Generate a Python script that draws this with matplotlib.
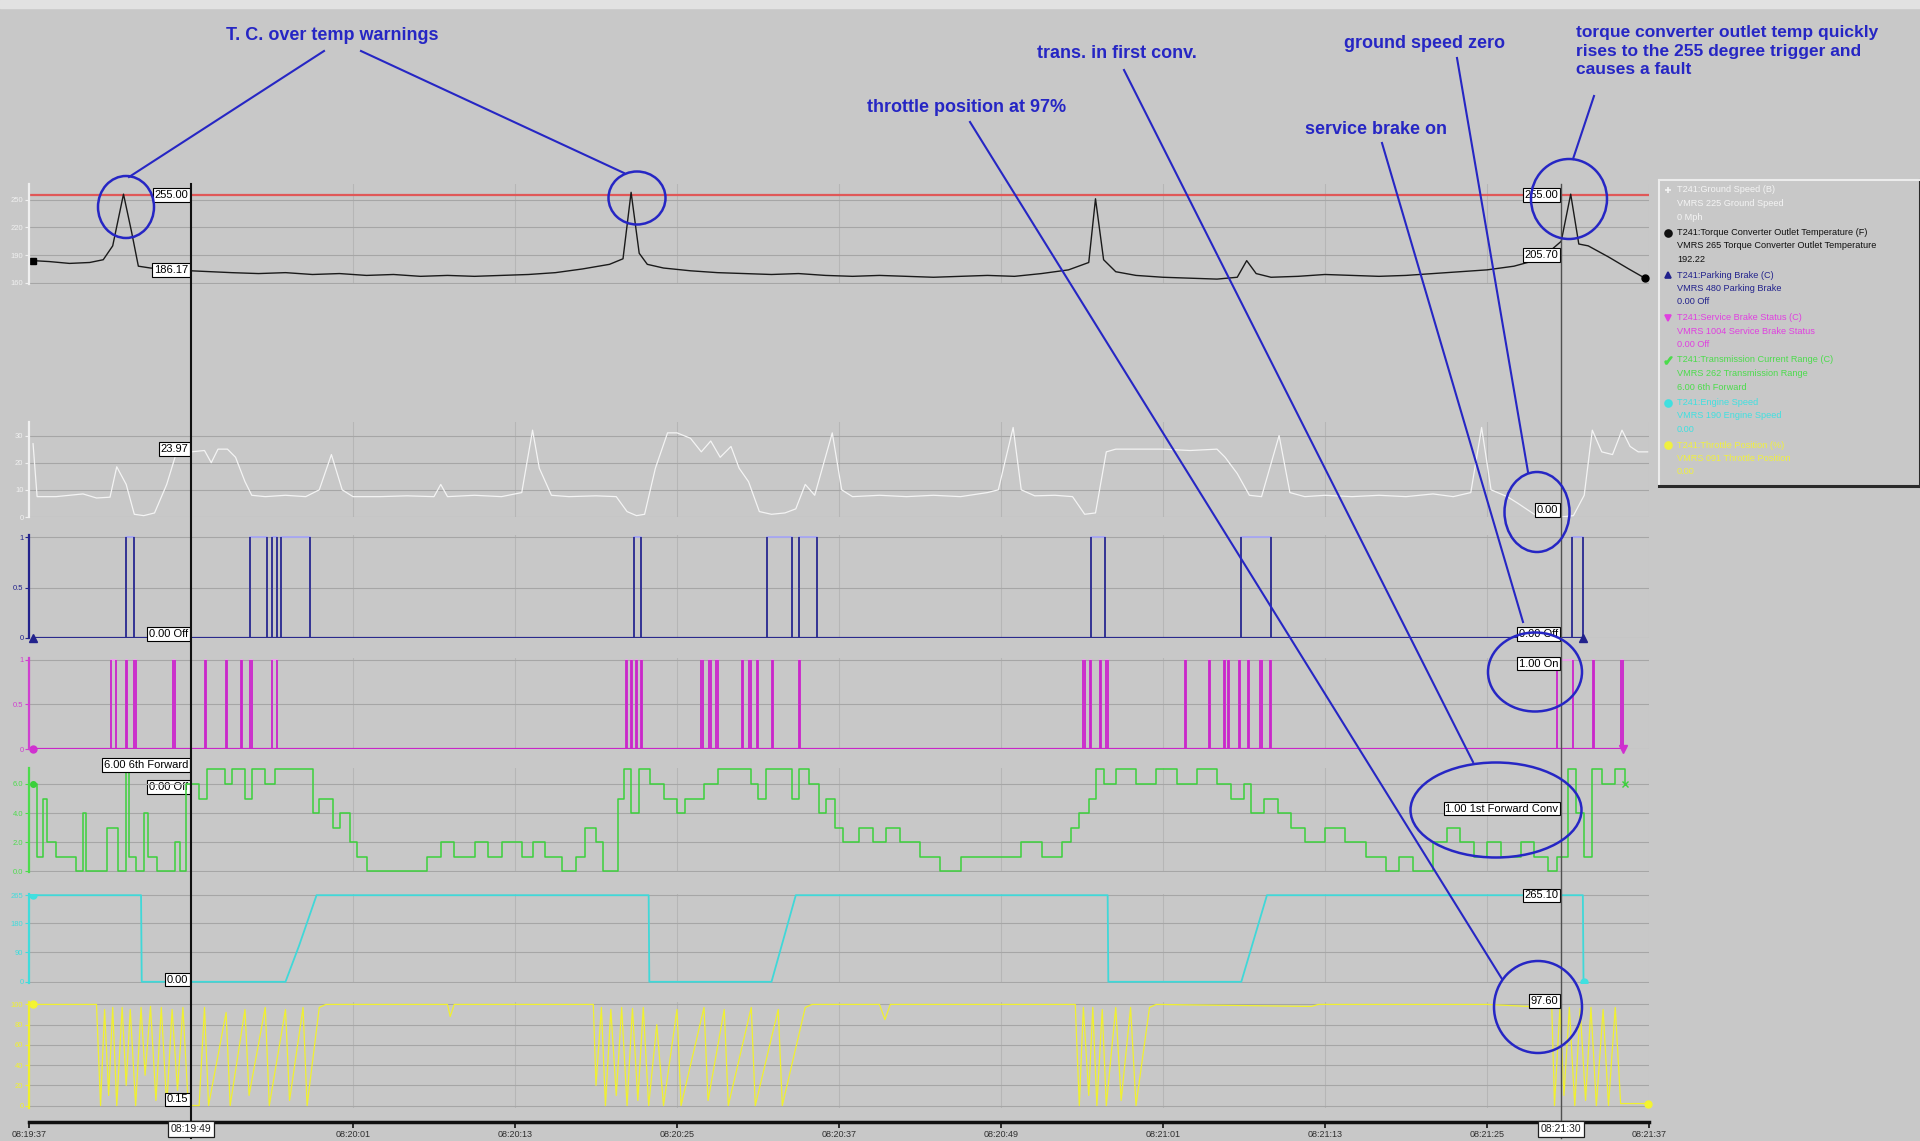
import matplotlib
matplotlib.use("Agg")
import matplotlib.pyplot as plt
from matplotlib.patches import Ellipse, Rectangle
from matplotlib.lines import Line2D
from matplotlib.transforms import blended_transform_factory

# time axis: seconds after 08:19:37
tick_t = [0, 24, 36, 48, 60, 72, 84, 96, 108, 120]
tick_lbl = ["08:19:37", "08:20:01", "08:20:13", "08:20:25", "08:20:37",
            "08:20:49", "08:21:01", "08:21:13", "08:21:25", "08:21:37"]
cursor_t = [12.0, 113.5]
cursor_lbl = ["08:19:49", "08:21:30"]

# torque converter outlet temperature (F)
torque_t = [0.3, 1.5, 3.0, 4.5, 5.5, 6.2, 7.0, 7.6, 8.1, 9.0, 10.0, 11.0, 12.0, 13.5, 15.0, 17.0,
            19.0, 21.0, 23.0, 25.0, 27.0, 29.0, 31.0, 33.0, 35.0, 37.0, 39.0, 41.0, 43.0, 44.0,
            44.6, 45.2, 45.8, 47.0, 49.0, 51.0, 53.0, 55.0, 57.0, 59.0, 61.0, 63.0, 65.0, 67.0,
            69.0, 71.0, 73.0, 75.0, 77.0, 78.5, 79.0, 79.6, 80.5, 82.0, 84.0, 86.0, 88.0, 89.5,
            90.2, 90.9, 92.0, 94.0, 96.0, 98.0, 100.0, 102.0, 104.0, 106.0, 108.0, 110.0, 112.0,
            113.5, 114.2, 114.8, 115.5, 117.0, 118.5, 119.7]
torque_v = [184, 183, 181, 182, 185, 200, 256, 215, 178, 176, 175, 174, 173, 172, 171, 170,
            171, 169, 170, 168, 169, 167, 168, 167, 168, 169, 171, 175, 180, 186,
            258, 192, 180, 176, 173, 171, 170, 169, 170, 168, 167, 168, 167, 166,
            167, 168, 167, 170, 174, 182, 251, 185, 172, 168, 166, 165, 164, 166,
            184, 170, 166, 167, 169, 168, 167, 168, 170, 172, 174, 178, 186,
            205, 256, 202, 200, 188, 175, 165]
temp_trigger = 255

# ground speed (mph)
speed_t = [0.3, 0.6, 1.0, 2.0, 3.0, 4.0, 5.0, 6.0, 6.5, 7.2,
           7.8, 8.5, 9.3, 10.2, 11.0, 11.5, 12.0, 13.0, 13.5, 14.0,
           14.7, 15.3, 16.0, 16.5, 17.5, 19.0, 20.5, 21.5, 22.4, 23.2,
           24.0, 26.0, 28.0, 30.0, 30.5, 31.0, 33.0, 35.0, 36.5, 37.3,
           37.8, 38.7, 40.0, 42.0, 43.5, 44.3, 45.0, 45.6, 46.4, 47.3,
           48.0, 49.0, 49.8, 50.5, 51.2, 52.0, 52.6, 53.3, 54.1, 55.0,
           56.0, 56.8, 57.5, 58.2, 59.5, 60.2, 61.0, 63.0, 65.0, 67.0,
           69.0, 71.0, 71.8, 72.9, 73.5, 74.5, 76.0, 77.3, 78.2, 79.0,
           79.8, 80.5, 82.0, 84.0, 86.0, 88.0, 88.6, 89.5, 90.4, 91.3,
           92.6, 93.4, 94.5, 96.0, 98.0, 100.0, 102.0, 104.0, 105.5, 106.8,
           107.6, 108.3, 109.5, 110.3, 111.5, 112.5, 113.5, 114.4, 115.2, 115.8,
           116.5, 117.3, 118.0, 118.6, 119.2, 119.9]
speed_v = [27, 7.5, 7.5, 7.5, 8, 8.5, 7, 7.3, 18.5, 12,
           1, 0.5, 1.5, 12, 25, 26, 24, 24.5, 20, 25,
           25, 22, 13, 8, 7.5, 8, 7.5, 10, 23, 10,
           7.5, 7.5, 7.8, 7.5, 12, 7.5, 8, 7.5, 9, 32,
           18, 8, 7.5, 7.8, 7.5, 2, 0.5, 1, 18, 31,
           31, 29, 24, 28, 22, 26, 18, 13, 2, 1,
           1.5, 3, 12, 8, 31, 10, 7.5, 8, 7.5, 8,
           7.5, 9, 10, 33, 10, 7.8, 8, 7.5, 1, 1.5,
           24, 25, 25, 25, 24.5, 25, 22, 16, 8, 7.5,
           30, 9, 7.5, 8, 7.5, 8, 7.5, 8.5, 7.5, 9,
           33, 10, 7.5, 5, 1, 0, 0, 0.5, 8, 32,
           24, 23, 32, 26, 24, 24]

# parking brake on/off
park_on = [7.2, 16.4, 18.0, 18.7, 44.8, 54.7, 57.0, 78.7, 89.8, 114.3]
park_off = [7.8, 17.6, 18.4, 20.8, 45.3, 56.5, 58.4, 79.7, 92.0, 115.1]
park_end = 115.1

# service brake status on/off
svc_on = [6.05, 7.15, 7.75, 10.7, 13.0, 14.6, 15.7, 16.4, 18.0, 44.2, 44.6, 44.95, 45.3,
          49.8, 50.4, 50.9, 52.8, 53.3, 53.9, 55.0, 57.0, 78.1, 78.6, 79.3, 79.8,
          85.6, 87.4, 88.5, 88.8, 89.6, 90.3, 91.2, 91.9, 113.2, 115.85, 117.95]
svc_off = [6.45, 7.25, 7.95, 10.8, 13.1, 14.7, 15.8, 16.5, 18.4, 44.3, 44.7, 45.05, 45.4,
           49.9, 50.55, 51.0, 52.9, 53.45, 54.0, 55.1, 57.1, 78.2, 78.7, 79.4, 79.9,
           85.7, 87.5, 88.6, 88.9, 89.7, 90.4, 91.3, 92.0, 114.4, 115.95, 118.05]
svc_end = 118.1

# transmission current range (gear)
gear_t = [0.3, 0.6, 1.0, 1.3, 2.0, 3.5, 4.0, 4.2, 5.8, 6.3,
          6.6, 7.2, 7.4, 7.9, 8.5, 8.8, 9.5, 10.8, 11.2, 11.6,
          12.6, 13.2, 14.5, 15.0, 16.0, 16.5, 17.5, 18.2, 21.0, 21.5,
          22.5, 23.0, 23.8, 24.3, 25.0, 29.5, 30.5, 31.5, 33.0, 34.0,
          35.0, 36.5, 37.3, 38.2, 39.5, 40.5, 41.2, 42.0, 42.5, 43.6,
          44.1, 44.6, 45.2, 46.0, 47.0, 48.0, 48.6, 50.0, 51.0, 53.5,
          54.0, 54.6, 56.5, 57.0, 57.8, 58.5, 59.0, 59.7, 60.3, 61.5,
          62.5, 63.5, 64.5, 66.0, 67.5, 69.0, 73.5, 75.0, 76.5, 77.2,
          77.8, 78.5, 79.0, 79.6, 80.5, 82.0, 83.5, 85.0, 86.5, 88.0,
          89.0, 90.0, 90.5, 91.5, 92.5, 93.5, 94.5, 96.0, 97.5, 99.0,
          100.5, 101.5, 102.5, 104.0, 105.0, 106.0, 107.0, 108.0, 109.0, 110.5,
          111.5, 112.5, 113.2, 114.0, 114.6, 115.2, 115.8, 116.5, 117.5, 118.2]
gear_v = [6, 1, 5, 2, 1, 0, 4, 0, 3, 3,
          0, 7, 1, 0, 4, 1, 0, 2, 0, 6,
          5, 7, 6, 7, 5, 7, 6, 7, 4, 5,
          3, 4, 2, 1, 0, 1, 2, 1, 2, 1,
          2, 1, 2, 1, 0, 1, 3, 2, 0, 5,
          7, 4, 7, 6, 5, 4, 5, 6, 7, 6,
          5, 7, 5, 7, 6, 4, 5, 3, 2, 3,
          2, 3, 2, 1, 0, 1, 2, 1, 2, 3,
          4, 5, 7, 6, 7, 6, 7, 6, 7, 6,
          5, 6, 4, 5, 4, 3, 2, 3, 2, 1,
          0, 1, 0, 2, 3, 2, 1, 2, 1, 2,
          1, 0, 1, 7, 4, 1, 7, 6, 7, 6]

# engine speed channel (cyan)
eng_t = [0.3, 8.3, 8.35, 19.0, 20.0, 21.3, 45.9, 45.95, 55.0, 56.8,
         79.9, 79.95, 89.8, 91.7, 115.1, 115.15]
eng_v = [265.1, 265.1, 0, 0, 110, 265.1, 265.1, 0, 0, 265.1,
         265.1, 0, 0, 265.1, 265.1, 0]

# throttle position (%)
thr_t = [0.3, 5.0, 5.3, 5.6, 5.9, 6.2, 6.5, 6.9, 7.2, 7.5,
         7.9, 8.3, 8.6, 9.0, 9.4, 9.8, 10.2, 10.6, 11.0, 11.4,
         11.8, 12.6, 13.0, 13.3, 14.6, 14.9, 16.0, 16.3, 17.5, 17.8,
         19.0, 19.3, 20.3, 20.6, 21.5, 22.0, 31.0, 31.2, 31.5, 41.8,
         42.0, 42.4, 42.7, 43.1, 43.5, 43.9, 44.3, 44.7, 45.1, 45.5,
         45.9, 46.5, 47.0, 48.0, 48.3, 50.0, 50.3, 51.5, 51.8, 53.5,
         53.8, 55.5, 55.8, 57.5, 58.0, 63.0, 63.4, 63.8, 77.5, 77.8,
         78.1, 78.5, 78.8, 79.1, 79.5, 79.8, 80.5, 80.9, 81.6, 82.0,
         83.0, 83.5, 95.0, 95.5, 108.0, 111.7, 112.8, 113.0, 113.4, 113.7,
         114.1, 114.5, 114.9, 115.3, 115.7, 116.1, 116.6, 117.0, 117.5, 117.9,
         119.9]
thr_v = [100, 100, 0, 95, 10, 97, 0, 97, 20, 95,
         0, 97, 30, 98, 5, 97, 0, 95, 15, 97,
         0.15, 0, 97, 0, 92, 0, 95, 10, 97, 0,
         95, 5, 97, 0, 97, 100, 100, 88, 100, 100,
         20, 97, 0, 95, 10, 97, 0, 96, 5, 97,
         0, 80, 0, 95, 0, 97, 5, 95, 0, 97,
         0, 95, 0, 97, 100, 100, 85, 100, 100, 0,
         97, 10, 97, 0, 95, 0, 97, 5, 97, 0,
         97, 100, 98, 100, 100, 97.6, 97, 0, 97, 10,
         97, 0, 96, 5, 97, 0, 95, 0, 97, 2,
         2]

# legend text (title, vmrs line, current value)
leg_colors = ["#f4f4f4", "#101010", "#22228c", "#e040e0", "#4cdc4c", "#40e0e0", "#f0f040"]
leg_text = [
    ["T241:Ground Speed (B)", "VMRS 225 Ground Speed", "0 Mph"],
    ["T241:Torque Converter Outlet Temperature (F)", "VMRS 265 Torque Converter Outlet Temperature", "192.22"],
    ["T241:Parking Brake (C)", "VMRS 480 Parking Brake", "0.00 Off"],
    ["T241:Service Brake Status (C)", "VMRS 1004 Service Brake Status", "0.00 Off"],
    ["T241:Transmission Current Range (C)", "VMRS 262 Transmission Range", "6.00 6th Forward"],
    ["T241:Engine Speed", "VMRS 190 Engine Speed", "0.00"],
    ["T241:Throttle Position (%)", "VMRS 091 Throttle Position", "0.00"],
]
leg_marks = ["+", "o", "^", "v", "$\u2713$", "o", "o"]

W, H = 1920, 1141
BG = "#c8c8c8"
X0, X1 = 29, 1649

plt.rcParams["font.family"] = ["Liberation Sans", "DejaVu Sans"]

fig = plt.figure(figsize=(W / 100, H / 100), dpi=100, facecolor=BG)
fig.add_artist(Rectangle((0, 1 - 8 / H), 1, 8 / H, transform=fig.transFigure,
                         color="#e2e2e2", zorder=0))


def panel(top, bottom, ylim, yticks, color, labels=None):
    ax = fig.add_axes([X0 / W, 1 - bottom / H, (X1 - X0) / W, (bottom - top) / H])
    ax.set_facecolor("none")
    ax.set_xlim(0, 120)
    ax.set_ylim(*ylim)
    ax.set_yticks(yticks)
    if labels:
        ax.set_yticklabels(labels)
    ax.set_xticks(tick_t)
    ax.tick_params(axis="x", length=0, labelbottom=False)
    ax.tick_params(axis="y", colors=color, labelsize=5.5, length=3, width=0.8, pad=1)
    for s in ("top", "right", "bottom"):
        ax.spines[s].set_visible(False)
    ax.spines["left"].set_color(color)
    ax.spines["left"].set_linewidth(1.6)
    ax.grid(axis="y", color="#a6a6a6", lw=0.8)
    ax.grid(axis="x", color="#b6b6b6", lw=0.8)
    ax.set_axisbelow(True)
    return ax


def pulses(ax, on, off, end, dark, light):
    t, v = [0.3], [0]
    for a, b in zip(on, off):
        t += [a, b]
        v += [1, 0]
    t.append(end)
    v.append(0)
    ax.step(t, v, where="post", color=light, lw=1.3)
    ax.hlines(0, 0.3, end, color=dark, lw=1.6)
    ax.vlines(on + off, 0, 1, color=dark, lw=1.3)


def vbox(ax, t, y, s, dy=0):
    ax.annotate(s, xy=(t, y), xytext=(-3, dy), textcoords="offset pixels",
                ha="right", va="center", fontsize=8, color="black", zorder=8,
                annotation_clip=False,
                bbox=dict(boxstyle="square,pad=0.15", fc="white", ec="black", lw=0.8))


T1, T2 = cursor_t

ax1 = panel(184, 284, (158.7, 267), [160, 190, 220, 250], "#f0f0f0")
ax1.axhline(temp_trigger, color="#e05858", lw=1.6)
ax1.plot(torque_t, torque_v, color="#1a1a1a", lw=1.0)
ax1.plot(torque_t[0], torque_v[0], "s", color="black", ms=4)
ax1.plot(torque_t[-1], torque_v[-1], "o", color="black", ms=5)
vbox(ax1, T1, temp_trigger, "255.00")
vbox(ax1, T1, 174, "186.17")
vbox(ax1, T2, temp_trigger, "255.00")
vbox(ax1, T2, 190, "205.70")

ax2 = panel(422, 517, (0, 35), [0, 10, 20, 30], "#f0f0f0")
ax2.plot(speed_t, speed_v, color="#f4f4f4", lw=0.9)
vbox(ax2, T1, 24, "23.97", dy=3)
vbox(ax2, T2, 0, "0.00", dy=7)

ax3 = panel(535, 638, (0, 1.02), [0, 0.5, 1], "#22228c", ["0", "0.5", "1"])
pulses(ax3, park_on, park_off, park_end, "#2a2a8c", "#a8a8f4")
ax3.plot([0.3, park_end], [0, 0], "^", color="#22228c", ms=6, clip_on=False)
vbox(ax3, T1, 0, "0.00 Off", dy=4)
vbox(ax3, T2, 0, "0.00 Off", dy=4)

ax4 = panel(658, 749, (0, 1.02), [0, 0.5, 1], "#d040d0", ["0", "0.5", "1"])
pulses(ax4, svc_on, svc_off, svc_end, "#c828c8", "#f0a0f0")
ax4.plot(0.3, 0, "o", color="#d030d0", ms=5, clip_on=False)
ax4.plot(svc_end, 0, "v", color="#d030d0", ms=6, clip_on=False)
vbox(ax4, T1, 0, "0.00 Off", dy=-38)
vbox(ax4, T2, 1, "1.00 On", dy=-4)

ax5 = panel(768, 872, (-0.05, 7.1), [0, 2, 4, 6], "#4cdc4c", ["0.0", "2.0", "4.0", "6.0"])
ax5.step(gear_t, gear_v, where="post", color="#3cd03c", lw=1.1)
ax5.plot(gear_t[0], gear_v[0], "o", color="#3cd03c", ms=4)
ax5.plot(gear_t[-1], gear_v[-1], "x", color="#3cd03c", ms=5)
vbox(ax5, T1, 6, "6.00 6th Forward", dy=19)
vbox(ax5, T2, 1, "1.00 1st Forward Conv", dy=48)

ax6 = panel(894, 983, (-3.7, 268.8), [0, 90, 180, 265], "#40dcdc")
ax6.plot(eng_t, eng_v, color="#40d8d8", lw=1.3)
ax6.plot([eng_t[0], eng_t[-1]], [eng_v[0], eng_v[-1]], "o", color="#40e0e0", ms=5)
vbox(ax6, T1, 0, "0.00", dy=2)
vbox(ax6, T2, 265.1, "265.10")

ax7 = panel(1002, 1108, (-2.4, 102.4), [0, 20, 40, 60, 80, 100], "#f0f030")
ax7.plot(thr_t, thr_v, color="#f0f030", lw=0.9)
ax7.plot([thr_t[0], thr_t[-1]], [thr_v[0], thr_v[-1]], "o", color="#f4f430", ms=5,
         clip_on=False)
vbox(ax7, T1, 0.15, "0.15", dy=6)
vbox(ax7, T2, 97.6, "97.60", dy=6)

# time axis
ax7.spines["bottom"].set_visible(True)
ax7.spines["bottom"].set_position(("outward", 10))
ax7.spines["bottom"].set_color("#101010")
ax7.spines["bottom"].set_linewidth(2.5)
ax7.set_xticklabels(tick_lbl)
ax7.tick_params(axis="x", length=4, width=1.2, color="#101010", labelcolor="#303030",
                labelsize=6.5, labelbottom=True, pad=2)

# cursors
blend = blended_transform_factory(ax7.transData, fig.transFigure)
fig.add_artist(Line2D([T1, T1], [1 - 184 / H, 1 - 1138 / H], transform=blend,
                      color="#101010", lw=1.5, zorder=5))
fig.add_artist(Line2D([T2, T2], [1 - 184 / H, 1 - 1138 / H], transform=blend,
                      color="#505050", lw=1.0, zorder=5))
for t, s in zip(cursor_t, cursor_lbl):
    fig.text(t, 1 - 1129 / H, s, transform=blend, ha="center", va="center",
             fontsize=7.5, color="#202020", zorder=9,
             bbox=dict(boxstyle="square,pad=0.25", fc="white", ec="#202020", lw=0.9))

# legend box
lg = fig.add_axes([1659 / W, 1 - 486 / H, 261 / W, 306 / H])
lg.set_facecolor(BG)
lg.set_xlim(0, 261)
lg.set_ylim(306, 0)
lg.set_xticks([])
lg.set_yticks([])
for s in ("top", "left"):
    lg.spines[s].set_color("#ececec")
    lg.spines[s].set_linewidth(1.5)
for s in ("bottom", "right"):
    lg.spines[s].set_color("#2a2a2a")
    lg.spines[s].set_linewidth(2.2)
for k, (c, lines, m) in enumerate(zip(leg_colors, leg_text, leg_marks)):
    y0 = 10 + 42.5 * k
    lg.plot(9, y0, marker=m, color=c, ms=5, mew=1.2)
    for j, s in enumerate(lines):
        lg.text(18, y0 + 13.5 * j, s, color=c, fontsize=6.6, va="center", ha="left")

# blue annotations
ov = fig.add_axes([0, 0, 1, 1], zorder=20)
ov.set_xlim(0, W)
ov.set_ylim(H, 0)
ov.axis("off")
ov.patch.set_alpha(0)
ANN = "#2626c4"
for (cx, cy), w, h in [((126, 207), 56, 62), ((637, 198), 57, 53), ((1569, 199), 76, 80),
                       ((1537, 512), 65, 80), ((1535, 672), 94, 79), ((1496, 810), 171, 95),
                       ((1538, 1007), 88, 92)]:
    ov.add_patch(Ellipse((cx, cy), w, h, fill=False, ec=ANN, lw=1.8))
for (xa, ya), (xb, yb) in [((324, 51), (129, 177)), ((361, 51), (624, 173)),
                           ((1594, 96), (1573, 159)), ((1457, 58), (1528, 472)),
                           ((1382, 143), (1523, 622)), ((1124, 70), (1473, 762)),
                           ((970, 122), (1502, 979))]:
    ov.plot([xa, xb], [ya, yb], color=ANN, lw=1.5)
for s, x, y in [("T. C. over temp warnings", 332, 35), ("trans. in first conv.", 1117, 53),
                ("ground speed zero", 1424, 43), ("throttle position at 97%", 967, 108),
                ("service brake on", 1376, 129)]:
    ov.text(x, y, s, color=ANN, fontsize=13, fontweight="bold", ha="center", va="center")
ov.text(1576, 25, "torque converter outlet temp quickly\nrises to the 255 degree trigger and\ncauses a fault",
        color=ANN, fontsize=12.5, fontweight="bold", ha="left", va="top", linespacing=1.3)

fig.savefig("out.png", dpi=100, facecolor=BG)
